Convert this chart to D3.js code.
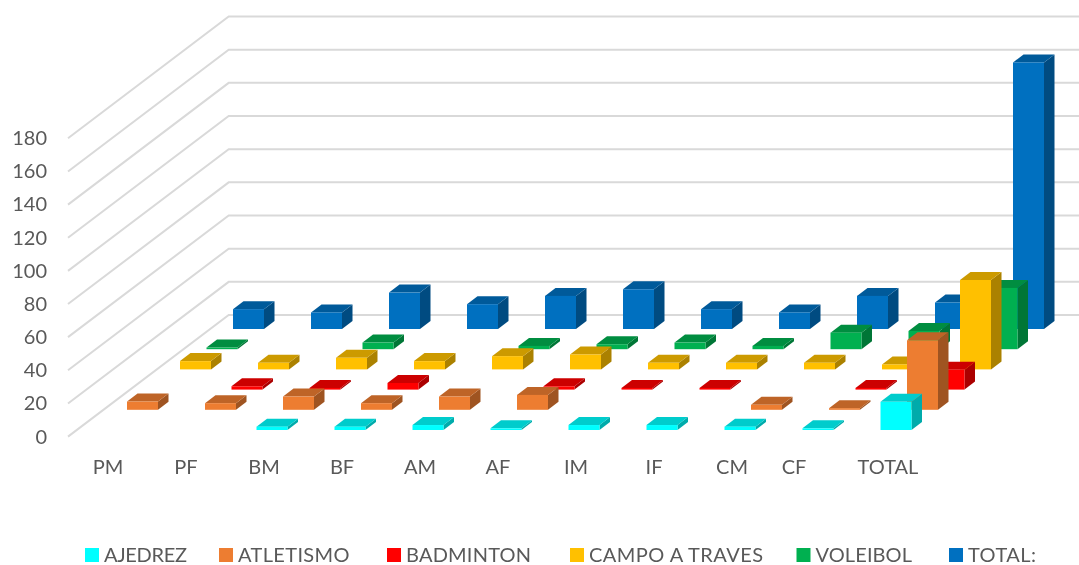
<!DOCTYPE html>
<html lang="en">
<head>
<meta charset="utf-8">
<title>Participantes por deporte</title>
<script src="https://cdn.jsdelivr.net/npm/d3@7/dist/d3.min.js"></script>
<style>
  html, body { margin: 0; padding: 0; background: #fff; }
  svg { display: block; filter: blur(0.4px); }
  text { font-family: Lato, "Open Sans", sans-serif; fill: #595959; }
</style>
</head>
<body>
<svg id="chart" width="1079" height="565"></svg>
<script>
var categories = ['PM', 'PF', 'BM', 'BF', 'AM', 'AF', 'IM', 'IF', 'CM', 'CF', 'TOTAL'];
var seriesNames = ['AJEDREZ', 'ATLETISMO', 'BADMINTON', 'CAMPO A TRAVES', 'VOLEIBOL', 'TOTAL:'];
var seriesColors = ['#00ffff', '#ed7d31', '#ff0000', '#ffc000', '#00b050', '#0070c0'];
var yTicks = [0, 20, 40, 60, 80, 100, 120, 140, 160, 180];

// null = no bar at all in the picture
var ajedrez = [null, null, 2, 2, 3, 1, 3, 3, 2, 1, 17];
var atletismo = [5, 4, 8, 4, 8, 9, null, null, 3, 1, 42];
var badminton = [null, 2, 1, 4, null, 2, 1, 1, null, 1, 12];
var campo = [5, 4, 7, 5, 8, 9, 4, 4, 4, 3, 54];
var voleibol = [1, null, 4, null, 2, 3, 4, 2, 10, 11, 37];
var totals = [12, 10, 22, 15, 20, 24, 12, 10, 20, 16, 161];
var seriesValues = [ajedrez, atletismo, badminton, campo, voleibol, totals];

var svg = d3.select('#chart');

// front row x position, the rows further back get shifted with rowX / rowY
var x = d3.scaleBand().domain(categories)
  .range([100.5, 100.5 + 78 * 10 + 31])
  .paddingInner(1 - 31 / 78).paddingOuter(0).align(0);
var rowX = d3.scalePoint().domain(seriesNames).range([0, 132.5]);
var rowY = d3.scalePoint().domain(seriesNames).range([430, 329]);
var barHeight = d3.scaleLinear().domain([0, 180]).range([0, 298]);

var depthX = 10.5, depthY = 8;

// walls
var wallY = d3.scaleLinear().domain([0, 180]).range([315, 16.5]);
var axisY = d3.scaleLinear().domain([0, 180]).range([436.6, 138.3]);
var wallLeft = 228.7, wallRight = 1079, floorLeft = 68;

var grid = svg.append('g').attr('class', 'grid')
  .attr('fill', 'none').attr('stroke', '#d9d9d9').attr('stroke-width', 2);
grid.selectAll('path').data(yTicks).enter().append('path')
  .attr('d', function(d) {
    return 'M' + floorLeft + ',' + axisY(d) + 'L' + wallLeft + ',' + wallY(d) + 'L' + wallRight + ',' + wallY(d);
  });

// y axis labels
var yAxis = svg.append('g').attr('transform', 'translate(47,0)')
  .call(d3.axisLeft(axisY).tickValues(yTicks).tickSize(0).tickPadding(0));
yAxis.select('.domain').remove();
yAxis.selectAll('text').style('font-size', '20px').attr('fill', '#595959');

// bars, back row first so the front rows cover them
function shade(color, k) {
  var c = d3.rgb(color);
  return d3.rgb(c.r * k, c.g * k, c.b * k).formatHex();
}

var rows = d3.range(seriesNames.length).reverse();
rows.forEach(function(s) {
  var name = seriesNames[s];
  var g = svg.append('g').attr('class', 'series');
  var bars = categories.map(function(c, i) {
    return {cat: c, value: seriesValues[s][i]};
  }).filter(function(d) { return d.value !== null; });

  var bar = g.selectAll('g').data(bars).enter().append('g');
  var left = function(d) { return x(d.cat) + rowX(name); };
  var bottom = rowY(name);
  var top = function(d) { return bottom - barHeight(d.value); };
  var w = x.bandwidth();

  bar.append('path').attr('fill', shade(seriesColors[s], 0.67))
    .attr('d', function(d) {
      var r = left(d) + w;
      return 'M' + r + ',' + bottom + 'L' + r + ',' + top(d) +
        'l' + depthX + ',' + (-depthY) + 'L' + (r + depthX) + ',' + (bottom - depthY) + 'Z';
    });
  bar.append('path').attr('fill', shade(seriesColors[s], 0.8))
    .attr('d', function(d) {
      return 'M' + left(d) + ',' + top(d) + 'l' + w + ',0l' + depthX + ',' + (-depthY) + 'l' + (-w) + ',0Z';
    });
  bar.append('rect').attr('fill', seriesColors[s])
    .attr('x', left).attr('y', top)
    .attr('width', w)
    .attr('height', function(d) { return bottom - top(d); });
});

// category labels, the CF one sits off the regular step in the picture
var labelX = d3.scalePoint().domain(categories).range([108, 888]);
var labelNudge = {CF: -16};
svg.append('g').selectAll('text').data(categories).enter().append('text')
  .attr('x', function(d) { return labelX(d) + (labelNudge[d] || 0); })
  .attr('y', 473.5)
  .attr('text-anchor', 'middle')
  .style('font-size', '20px')
  .text(function(d) { return d; });

// legend
var legendStart = [85, 219, 387, 570, 796.5, 949];
var legendTextWidth = [83, 111.5, 125, 174, 96.5, 68];
var legend = svg.append('g').selectAll('g').data(seriesNames).enter().append('g')
  .attr('transform', function(d, i) { return 'translate(' + legendStart[i] + ',548)'; });
legend.append('rect').attr('width', 14).attr('height', 14)
  .attr('fill', function(d, i) { return seriesColors[i]; });
legend.append('text').attr('x', 19).attr('y', 14)
  .attr('textLength', function(d, i) { return legendTextWidth[i]; })
  .attr('lengthAdjust', 'spacing')
  .style('font-size', '20px')
  .text(function(d) { return d; });
</script>
</body>
</html>
